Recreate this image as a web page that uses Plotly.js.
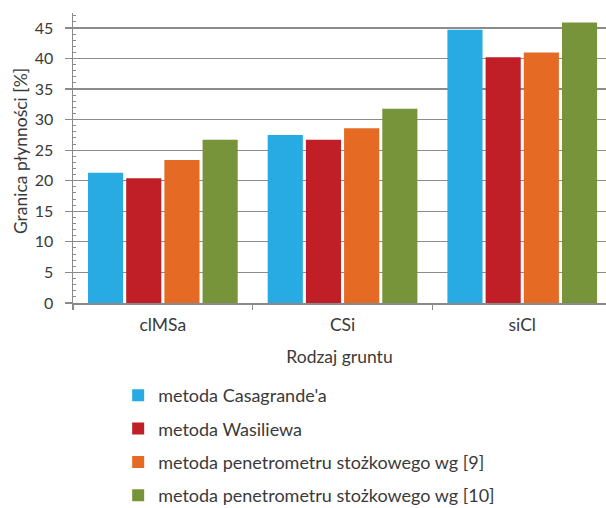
<!DOCTYPE html>
<html>
<head>
<meta charset="utf-8">
<script src="https://cdn.plot.ly/plotly-3.0.1.min.js"></script>
<style>
  html, body { margin: 0; padding: 0; background: #fff; }
  #chart { width: 606px; height: 508px; }
</style>
</head>
<body>
<div id="chart"></div>
<script>
// Soil types (x categories)
const soilTypes = ['clMSa', 'CSi', 'siCl'];

// Liquid limit [%] by method
const casagrande = [21.3, 27.5, 44.7];
const wasiliew = [20.4, 26.7, 40.2];
const cone9 = [23.4, 28.6, 41.0];
const cone10 = [26.7, 31.8, 45.9];

const seriesNames = [
  "metoda Casagrande'a",
  'metoda Wasiliewa',
  'metoda penetrometru stożkowego wg [9]',
  'metoda penetrometru stożkowego wg [10]'
];
const seriesValues = [casagrande, wasiliew, cone9, cone10];
const seriesColors = ['#28abe2', '#c01f27', '#e56b25', '#78943b'];

const yTitle = 'Granica płynności [%]';

const FONT = 'Lato, "Open Sans", sans-serif';
const TEXT_COLOR = '#3a3a3a';

const traces = seriesValues.map((vals, i) => ({
  type: 'bar',
  x: soilTypes,
  y: vals,
  name: seriesNames[i],
  legendgroup: 'g' + i,
  marker: { color: seriesColors[i], line: { width: 0 } },
  hoverinfo: 'x+y+name'
}));

const layout = {
  width: 606,
  height: 508,
  margin: { l: 73, r: 0, t: 13, b: 205, autoexpand: false },
  paper_bgcolor: '#ffffff',
  plot_bgcolor: '#ffffff',
  font: { family: FONT, size: 15, color: TEXT_COLOR },
  barmode: 'group',
  bargap: 0.15,
  bargroupgap: 0.08,
  showlegend: true,
  legend: {
    xref: 'container', yref: 'container',
    x: 0.195, y: 0.258,
    xanchor: 'left', yanchor: 'top',
    orientation: 'v',
    traceorder: 'grouped',
    tracegroupgap: 7,
    font: { family: FONT, size: 18, color: TEXT_COLOR },
    bgcolor: 'rgba(0,0,0,0)'
  },
  xaxis: {
    type: 'category',
    range: [-0.5, 2.466],
    showline: true,
    linecolor: '#8a8a8a',
    linewidth: 1.5,
    showgrid: false,
    zeroline: false,
    ticks: 'outside',
    tickson: 'boundaries',
    ticklen: 5,
    tickwidth: 1.2,
    tickcolor: '#8a8a8a',
    tickangle: 0,
    tickfont: { family: FONT, size: 17.5, color: TEXT_COLOR },
    ticklabelstandoff: 5,
    title: {
      text: 'Rodzaj gruntu',
      font: { family: FONT, size: 17.5, color: TEXT_COLOR },
      standoff: 17
    },
    automargin: false,
    fixedrange: true
  },
  yaxis: {
    range: [0, 47.45],
    tick0: 0,
    dtick: 5,
    showline: true,
    linecolor: '#8a8a8a',
    linewidth: 1.5,
    showgrid: true,
    gridcolor: '#8c8c8c',
    gridwidth: 1.2,
    zeroline: false,
    ticks: 'outside',
    ticklen: 7,
    tickwidth: 1.2,
    tickcolor: '#8a8a8a',
    tickfont: { family: FONT, size: 16, color: TEXT_COLOR },
    ticklabelstandoff: 8,
    minor: {
      dtick: 1,
      ticks: 'inside',
      ticklen: 3,
      tickwidth: 1,
      tickcolor: '#8a8a8a',
      showgrid: false
    },
    automargin: false,
    fixedrange: true
  },
  // vertical y-axis title, set left of the tick labels
  annotations: [{
    text: yTitle,
    xref: 'paper', yref: 'paper',
    x: -0.0994, y: 0.524,
    xanchor: 'center', yanchor: 'middle',
    textangle: -90,
    showarrow: false,
    font: { family: FONT, size: 17.5, color: TEXT_COLOR }
  }]
};

Plotly.newPlot('chart', traces, layout, { displayModeBar: false, staticPlot: true });
</script>
</body>
</html>
